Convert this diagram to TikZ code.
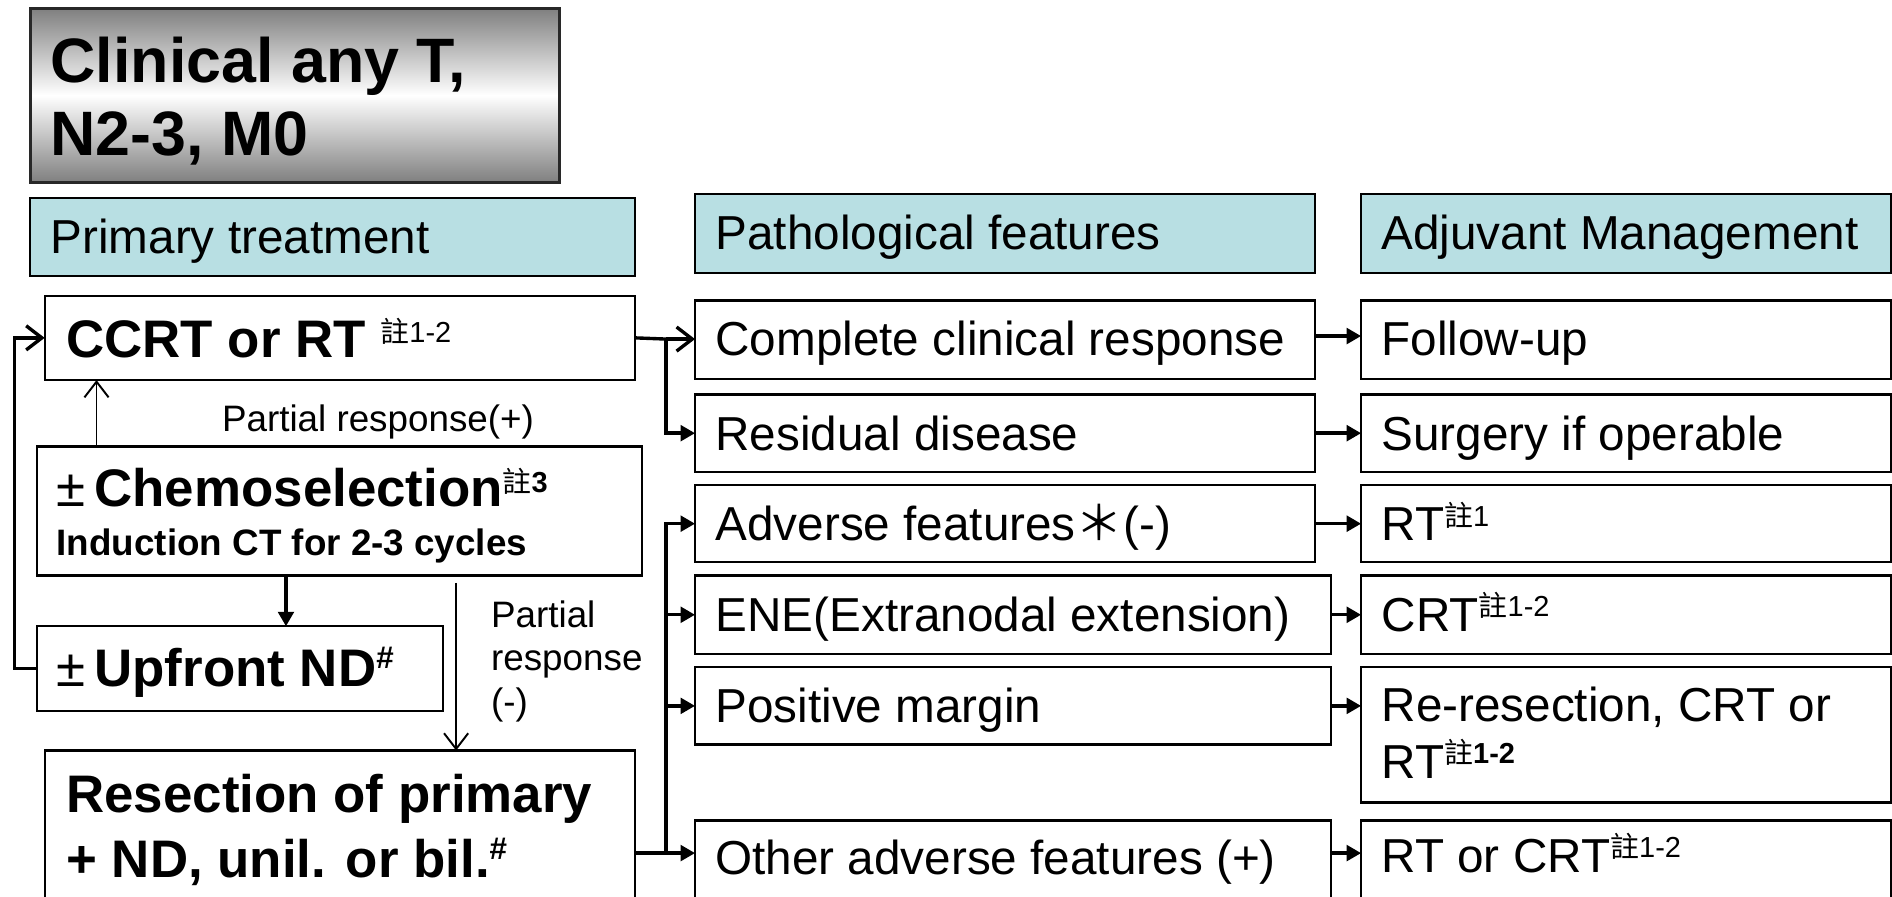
\documentclass[tikz,border=0pt]{standalone}
\usepackage{fontspec}
\setmainfont{Liberation Sans}
\newfontfamily\cjk{Noto Sans CJK TC}
\usetikzlibrary{arrows.meta}
\definecolor{hdrfill}{RGB}{184,223,227}
\definecolor{titleedge}{RGB}{40,40,40}
\newcommand\fs[1]{\fontsize{#1}{#1}\selectfont}
\newcommand\zsup[1]{\raisebox{12pt}{\fs{24}\mdseries{\cjk 註}#1}}
\newcommand\hsup{\raisebox{15pt}{\fs{26}\bfseries\#}}
\begin{document}
\begin{tikzpicture}[x=1pt,y=-1pt,
  box/.style={draw, line width=1.8pt, inner sep=0pt, outer sep=0pt, anchor=north west},
  hdr/.style={box, fill=hdrfill},
  txt/.style={anchor=base west, inner sep=0pt, outer sep=0pt},
  reg/.style={txt, font=\fs{39.5}},
  bigb/.style={txt, font=\fs{43.8}\bfseries},
  small/.style={txt, font=\fs{30.5}},
  thk/.style={line width=2.8pt},
  thn/.style={line width=1.6pt},
  tri/.style={-{Triangle[length=12pt,width=13pt]}},
  barb/.style={-{Straight Barb[length=13pt,width=20pt]}}
]
\useasboundingbox (0,0) rectangle (1568,743);
\clip (0,0) rectangle (1568,743);

% title
\node[box, draw=titleedge, line width=2.5pt, top color=black!50, bottom color=black!50, middle color=white,
  minimum width=439pt, minimum height=144pt] (title) at (25,7) {};
\node[txt, font=\fs{52}\bfseries] (titleA) at (42,68) {Clinical any T,};
\node[txt, font=\fs{52}\bfseries] (titleB) at (42,129) {N2-3, M0};

% headers
\node[hdr, minimum width=501pt, minimum height=65pt] (hpt) at (25,164) {};
\node[hdr, minimum width=514pt, minimum height=65pt] (hpf) at (576,161) {};
\node[hdr, minimum width=439pt, minimum height=65pt] (ham) at (1128,161) {};
\node[reg] (hptT) at (42,210) {Primary treatment};
\node[reg] (hpfT) at (593,207) {Pathological features};
\node[reg] (hamT) at (1145,207) {Adjuvant Management};

% primary treatment column
\node[box, minimum width=489pt, minimum height=70pt] (ccrt) at (37,245) {};
\node[box, minimum width=501pt, minimum height=107pt] (chemo) at (31,370) {};
\node[box, minimum width=336pt, minimum height=70pt] (upfront) at (31,519) {};
\node[box, minimum width=489pt, minimum height=160pt] (resect) at (37,622) {};

\node[bigb] (ccrtT) at (55,296) {CCRT or RT \zsup{1-2}};
\node[small] (prplus) at (184,358) {Partial response(+)};
\node[txt, font=\fs{43.8}] (chemoT) at (47,420) {\mdseries ±\,\bfseries Chemoselection\zsup{\bfseries 3}};
\node[txt, font=\fs{30.5}\bfseries] (chemoT2) at (47,460) {Induction CT for 2-3 cycles};
\node[txt, font=\fs{43.8}] (upT) at (47,569) {\mdseries ±\,\bfseries Upfront ND\hsup};
\node[small] (prm1) at (407,520) {Partial};
\node[small] (prm2) at (407,556) {response};
\node[small] (prm3) at (407,592) {(-)};
\node[bigb] (resT1) at (55,673) {Resection of primary};
\node[bigb] (resT2) at (55,727) {+ ND, unil. or bil.\hsup};

% pathological features column
\node[box, minimum width=514pt, minimum height=65pt] (complete) at (576,249) {};
\node[box, minimum width=514pt, minimum height=64pt] (residual) at (576,327) {};
\node[box, minimum width=514pt, minimum height=64pt] (adverse) at (576,402) {};
\node[box, minimum width=527pt, minimum height=65pt] (ene) at (576,477) {};
\node[box, minimum width=527pt, minimum height=64pt] (positive) at (576,553) {};
\node[box, minimum width=527pt, minimum height=100pt] (other) at (576,680) {};
\node[reg] (completeT) at (593,295) {Complete clinical response};
\node[reg] (residualT) at (593,373) {Residual disease};
\node[reg] (adverseT) at (593,448) {Adverse features{\cjk ＊}(-)};
\node[reg] (eneT) at (593,523) {ENE(Extranodal extension)};
\node[reg] (positiveT) at (593,599) {Positive margin};
\node[reg] (otherT) at (593,725) {Other adverse features (+)};

% adjuvant column
\node[box, minimum width=439pt, minimum height=65pt] (follow) at (1128,249) {};
\node[box, minimum width=439pt, minimum height=64pt] (surgery) at (1128,327) {};
\node[box, minimum width=439pt, minimum height=64pt] (rtone) at (1128,402) {};
\node[box, minimum width=439pt, minimum height=65pt] (crt) at (1128,477) {};
\node[box, minimum width=439pt, minimum height=112pt] (reres) at (1128,553) {};
\node[box, minimum width=439pt, minimum height=100pt] (rtcrt) at (1128,680) {};
\node[reg] (followT) at (1145,295) {Follow-up};
\node[reg] (surgeryT) at (1145,373) {Surgery if operable};
\node[reg] (rtoneT) at (1145,448) {RT\zsup{1}};
\node[reg] (crtT) at (1145,523) {CRT\zsup{1-2}};
\node[reg] (reresT1) at (1145,598) {Re-resection, CRT or};
\node[reg] (reresT2) at (1145,645) {RT\zsup{\bfseries 1-2}};
\node[reg] (rtcrtT) at (1145,723) {RT or CRT\zsup{1-2}};

% connectors: primary column
\draw[thk, barb] (upfront.west) -- ++(-19,0) |- (ccrt.west);
\draw[thn, barb] ([xshift=49pt]chemo.north west) -- ([xshift=49pt]chemo.north west |- ccrt.south);
\draw[thk, tri] ([xshift=206pt]chemo.south west) -- ([xshift=206pt]chemo.south west |- upfront.north);
\coordinate (pm) at (378,483);
\draw[thn, barb] (pm) -- (pm |- resect.north);

% CCRT to pathological
\coordinate (j1) at (552,281);
\draw[thk] (ccrt.east) -- (j1);
\draw[thk, barb] (j1) -- (j1 -| complete.west);
\draw[thk, tri] (j1) |- (residual.west);

% resection to pathological
\coordinate (rout) at ([yshift=-85pt]resect.north east);
\coordinate (j2) at (552,707);
\draw[thk] (rout) -- (j2);
\draw[thk, tri] (j2) -- (j2 -| other.west);
\draw[thk, tri] (j2) |- (adverse.west);
\draw[thk, tri] (j2 |- ene.west) -- (ene.west);
\draw[thk, tri] (j2 |- positive.west) -- (positive.west);

% pathological to adjuvant
\draw[thk, tri] ([yshift=3pt]complete.east) -- ([yshift=3pt]complete.east -| follow.west);
\draw[thk, tri] (residual.east) -- (residual.east -| surgery.west);
\draw[thk, tri] (adverse.east) -- (adverse.east -| rtone.west);
\draw[thk, tri] (ene.east) -- (ene.east -| crt.west);
\draw[thk, tri] (positive.east) -- (positive.east -| reres.west);
\draw[thk, tri] ([yshift=-27pt]other.north east) -- ([yshift=-27pt]other.north east -| rtcrt.west);
\end{tikzpicture}
\end{document}
